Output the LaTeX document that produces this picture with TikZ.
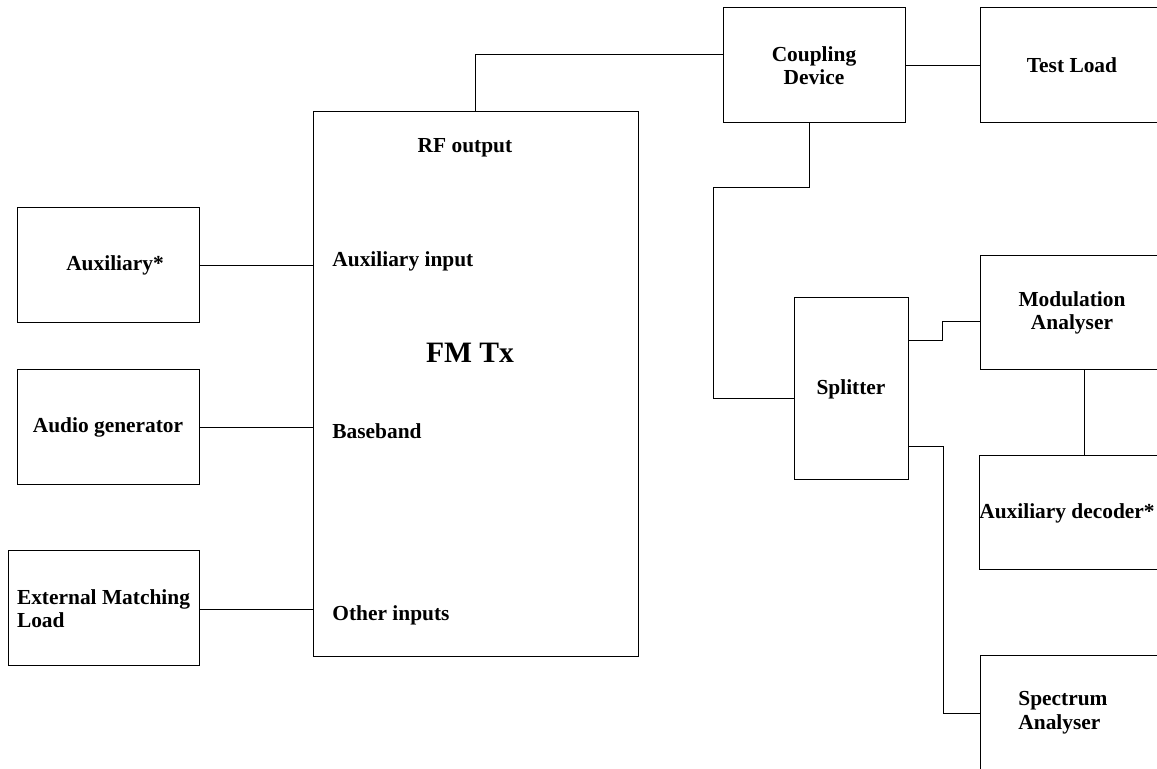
\documentclass[tikz,border=0pt]{standalone}
\usepackage{fontspec}
\setmainfont{Liberation Serif}
\begin{document}
\begin{tikzpicture}[x=0.5pt,y=-0.5pt,
  every node/.style={font=\fontsize{10.7pt}{11.8pt}\selectfont\bfseries, inner sep=0pt},
  box/.style={draw, line width=0.5pt, align=center},
  wire/.style={line width=0.5pt}]
\useasboundingbox (0,0) rectangle (1157,769);
\clip (0,0) rectangle (1157,769);
\fill[white] (0,0) rectangle (1157,769);
% left boxes
\node[box, minimum width=91pt, minimum height=57.5pt] (aux) at (108,265.5) {\hspace*{7pt}Auxiliary*};
\node[box, minimum width=91pt, minimum height=57.5pt] (audio) at (108,427.5) {Audio generator};
\node[box, minimum width=95.5pt, minimum height=57.5pt, align=left] (ext) at (103.5,608.5) {External Matching\\Load};
% transmitter
\node[box, minimum width=162.5pt, minimum height=272.5pt] (fm) at (475.5,384.5) {};
\node[anchor=base] (rf) at (465,153) {RF output};
\node[anchor=base west] (auxin) at (332,267) {Auxiliary input};
\node[anchor=base, font=\fontsize{14.8pt}{16pt}\selectfont\bfseries] (fmtx) at (470,363) {FM Tx};
\node[anchor=base west] (bb) at (332,439) {Baseband};
\node[anchor=base west] (oth) at (332,621) {Other inputs};
% right side
\node[box, minimum width=91pt, minimum height=57.5pt] (cd) at (814,65.5) {Coupling\\Device};
\node[box, minimum width=92pt, minimum height=57.5pt] (tl) at (1072,65.5) {Test Load};
\node[box, minimum width=57pt, minimum height=91pt] (split) at (851,389) {Splitter};
\node[box, minimum width=92pt, minimum height=57pt] (mod) at (1072,313) {Modulation\\Analyser};
\node[box, minimum width=92pt, minimum height=57pt] (adec) at (1072,513) {Auxiliary decoder*\hspace*{5pt}};
\node[box, minimum width=92pt, minimum height=57.5pt] (spec) at (1072,713.5) {};
\node[anchor=west, align=left] (spectxt) at (1018,713) {Spectrum\\Analyser};
\coordinate (j1) at (713,188);
% connectors
\draw[wire] (aux.east) -- (aux.east -| fm.west);
\draw[wire] (audio.east) -- (audio.east -| fm.west);
\draw[wire] ([yshift=-0.75pt]ext.east) -- ([yshift=-0.75pt]ext.east -| fm.west);
\draw[wire] (fm.north) |- ([yshift=5.25pt]cd.west);
\draw[wire] (cd) -- (tl);
\draw[wire] ([xshift=-2.5pt]cd.south) |- (j1) |- ([yshift=-5pt]split.west);
\draw[wire] ([yshift=24pt]split.east) -- ++(34,0) |- ([yshift=-4.5pt]mod.west);
\draw[wire] ([yshift=-29pt]split.east) -- ++(35,0) |- (spec.west);
\draw[wire] ([xshift=6pt]mod.south) -- ([xshift=6pt]adec.north);
\end{tikzpicture}
\end{document}
